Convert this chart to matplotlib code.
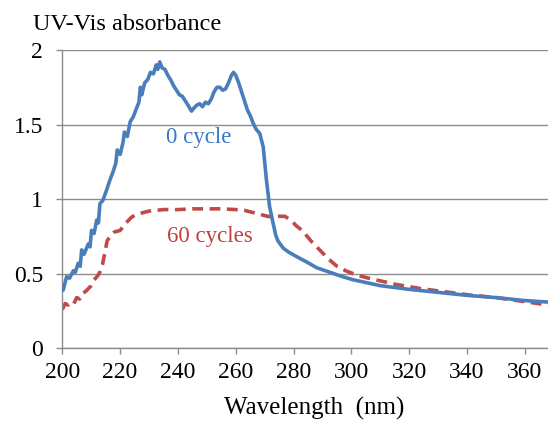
import matplotlib

matplotlib.use("Agg")
import matplotlib.pyplot as plt

plt.rcParams["font.family"] = ["Liberation Serif", "DejaVu Serif"]

# 0 cycle (blue, solid)
wl_0 = [200, 200.3, 201.5, 202.5, 203.8, 204.5, 205.5, 206.2, 206.7, 207.5, 209, 209.6,
        210.1, 211, 211.9, 212.5, 213, 214, 215.3, 216.5, 217.5, 218.5, 219, 220, 221,
        221.5, 222.5, 223.5, 224.5, 225.5, 226.5, 227, 227.5, 228.5, 229.5, 230.5,
        231.5, 232.5, 233, 233.7, 234.5, 235.5, 236.5, 237.5, 238.5, 239.5, 240.5,
        241.5, 242.5, 243.5, 244.7, 245.5, 246.5, 247.5, 248.5, 249.5, 250.5, 251.5,
        252.5, 253.5, 254.5, 255.5, 256.5, 257.5, 258.5, 259.2, 260, 261, 262, 263,
        264, 265, 266, 267, 268.3, 269.5, 270.6, 271.7, 272.9, 273.8, 274.6, 276.5,
        278.7, 281.5, 284.4, 288, 292.5, 297, 300.5, 310, 320, 330, 340, 350, 360, 368]
abs_0 = [0.40, 0.39, 0.48, 0.47, 0.52, 0.51, 0.57, 0.55, 0.66, 0.63, 0.70, 0.68,
         0.79, 0.77, 0.86, 0.84, 0.97, 0.99, 1.06, 1.13, 1.18, 1.24, 1.33, 1.30, 1.38,
         1.45, 1.42, 1.52, 1.55, 1.60, 1.65, 1.75, 1.70, 1.78, 1.80, 1.85,
         1.84, 1.90, 1.87, 1.92, 1.88, 1.87, 1.83, 1.80, 1.76, 1.73, 1.70,
         1.69, 1.66, 1.63, 1.59, 1.61, 1.63, 1.64, 1.62, 1.65, 1.64, 1.67,
         1.72, 1.75, 1.75, 1.73, 1.74, 1.78, 1.83, 1.85, 1.83, 1.78, 1.72, 1.66,
         1.60, 1.56, 1.51, 1.47, 1.44, 1.35, 1.13, 0.95, 0.84, 0.76, 0.72, 0.67,
         0.64, 0.61, 0.58, 0.54, 0.51, 0.48, 0.46, 0.42, 0.395, 0.375, 0.355, 0.34, 0.32, 0.31]

# 60 cycles (red, dashed)
wl_60 = [200, 201, 202, 203, 204, 205, 206, 207, 208, 209, 210, 211, 212, 213, 214,
         214.7, 215.5, 216.5, 218, 220, 222, 224, 226, 228, 230, 235, 240, 245, 250,
         255, 260, 263, 266, 268, 271, 273, 275, 277, 279, 281, 283, 286, 289, 292,
         295, 298, 302, 306, 315, 324, 332, 341, 350, 361, 368]
abs_60 = [0.26, 0.30, 0.29, 0.31, 0.30, 0.34, 0.33, 0.37, 0.38, 0.40, 0.42, 0.46,
          0.48, 0.51, 0.57, 0.64, 0.72, 0.75, 0.78, 0.79, 0.84, 0.88, 0.90, 0.91, 0.92,
          0.93, 0.93, 0.935, 0.935, 0.935, 0.93, 0.925, 0.91, 0.90, 0.885, 0.88, 0.885,
          0.885, 0.86, 0.82, 0.79, 0.72, 0.66, 0.60, 0.55, 0.52, 0.49, 0.47, 0.43,
          0.40, 0.38, 0.357, 0.34, 0.31, 0.29]

x_ticks = [200, 220, 240, 260, 280, 300, 320, 340, 360]
y_ticks = [0, 0.5, 1, 1.5, 2]
y_tick_labels = ["0", "0.5", "1", "1.5", "2"]

blue = "#4A7EBB"
red = "#BE4B48"
grid_c = "#8C8C8C"
fs = 17

fig = plt.figure(figsize=(5.48, 4.23), dpi=100)
ax = fig.add_axes([62.3 / 548, 1 - 348.3 / 423, 1 - 62.3 / 548, (348.3 - 50) / 423])

ax.plot(wl_0, abs_0, color=blue, lw=2.6, solid_joinstyle="round", zorder=3)
ax.plot(wl_60, abs_60, color=red, lw=2.6, linestyle=(0, (3.0, 1.8)), zorder=2)

ax.set_xlim(200, 368)
ax.set_ylim(0, 2)
ax.set_xticks(x_ticks)
ax.set_yticks(y_ticks)
ax.set_yticklabels(y_tick_labels)
ax.yaxis.grid(True, color=grid_c, lw=1)
ax.set_axisbelow(True)
for side in ("top", "right"):
    ax.spines[side].set_visible(False)
for side in ("left", "bottom"):
    ax.spines[side].set_color(grid_c)
    ax.spines[side].set_linewidth(1)
ax.tick_params(axis="both", direction="out", length=4.3, width=1, color=grid_c,
               labelsize=fs, labelcolor="black")
ax.tick_params(axis="y", pad=9.5)
ax.tick_params(axis="x", pad=5.3)

ax.text(247.2, 1.41, "0 cycle", color="#3A78C2", fontsize=16.5, ha="center", va="center")
ax.text(251, 0.75, "60 cycles", color="#C0403C", fontsize=16.5, ha="center", va="center")

fig.text(33 / 548, 1 - 30 / 423, "UV-Vis absorbance", fontsize=17.5, ha="left", va="baseline")
fig.text(314 / 548, 1 - 415 / 423, "Wavelength  (nm)", fontsize=18, ha="center", va="baseline")

fig.savefig("out.png", dpi=100)
